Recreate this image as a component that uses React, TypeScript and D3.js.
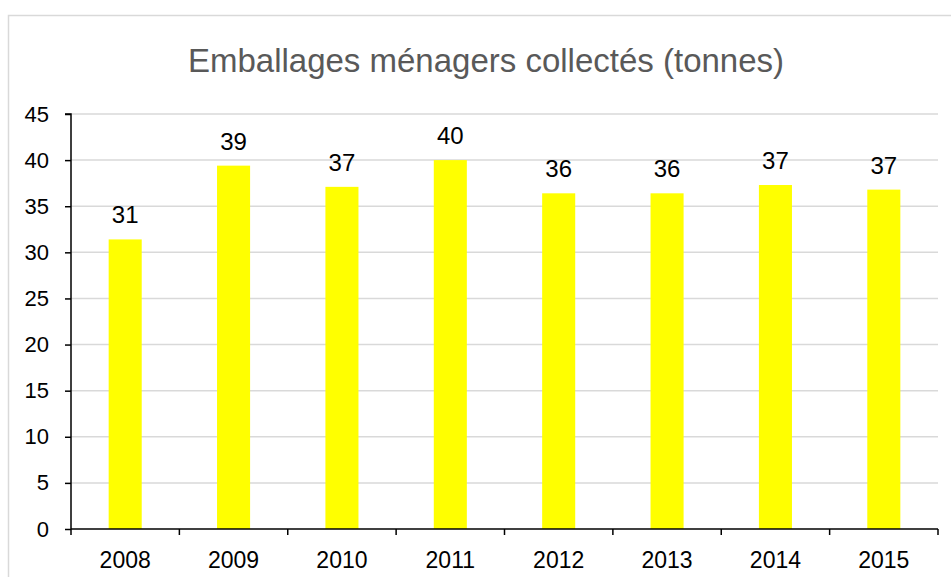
import React, { useRef, useEffect } from 'react';
import * as d3 from 'd3';

// chart data
const years = ['2008', '2009', '2010', '2011', '2012', '2013', '2014', '2015'];
const tonnes = [31.4, 39.4, 37.1, 40.0, 36.4, 36.4, 37.3, 36.8];
const yTicks = [0, 5, 10, 15, 20, 25, 30, 35, 40, 45];
const title = 'Emballages ménagers collectés (tonnes)';

const W = 951;
const H = 577;

const App = () => {
    const svgRef = useRef<SVGSVGElement>(null);

    useEffect(() => {
        const svg = d3.select(svgRef.current);
        svg.selectAll('*').remove();

        const left = 71, right = 938, top = 114, bottom = 529;
        const font = '"Liberation Sans", Arial, sans-serif';

        // outer chart frame (cropped at right / bottom)
        svg.append('rect')
           .attr('x', 8.5).attr('y', 15.5)
           .attr('width', 1000).attr('height', 1000)
           .attr('fill', '#fff')
           .attr('stroke', '#d9d9d9')
           .attr('stroke-width', 1.5);

        svg.append('text')
           .attr('x', 486).attr('y', 72)
           .attr('text-anchor', 'middle')
           .style('font-family', font)
           .style('font-size', '33px')
           .attr('fill', '#595959')
           .text(title);

        // scales
        const xScale = d3.scaleBand()
                         .domain(years)
                         .range([left, right])
                         .paddingInner(0.695)
                         .paddingOuter(0.3475);

        const yScale = d3.scaleLinear()
                         .domain([0, 45])
                         .range([bottom, top]);

        // gridlines
        svg.append('g')
           .selectAll('line')
           .data(yTicks.filter(t => t > 0))
           .join('line')
           .attr('x1', left).attr('x2', right)
           .attr('y1', d => yScale(d)).attr('y2', d => yScale(d))
           .attr('stroke', '#d9d9d9')
           .attr('stroke-width', 1.5);

        // y axis
        const yAxis = d3.axisLeft(yScale).tickValues(yTicks).tickSize(6).tickPadding(16);
        const gy = svg.append('g')
                      .attr('transform', `translate(${left}, 0)`)
                      .call(yAxis);
        gy.selectAll('path, line').attr('stroke', '#000').attr('stroke-width', 1.5);
        gy.select('.domain').attr('d', `M-6,${top}H0V${bottom}`);
        gy.selectAll('text')
          .style('font-family', font)
          .style('font-size', '22px')
          .attr('fill', '#000');

        // bars
        svg.selectAll('.bar')
           .data(tonnes)
           .join('rect')
           .attr('class', 'bar')
           .attr('x', (d, i) => xScale(years[i]))
           .attr('y', d => yScale(d))
           .attr('width', xScale.bandwidth())
           .attr('height', d => bottom - yScale(d))
           .attr('fill', '#ffff00');

        // x axis with ticks between categories
        const step = xScale.step();
        const boundaries = d3.range(years.length + 1).map(i => left + i * step);
        const gx = svg.append('g');
        gx.append('line')
          .attr('x1', left).attr('x2', right)
          .attr('y1', bottom).attr('y2', bottom)
          .attr('stroke', '#000').attr('stroke-width', 1.5);
        gx.selectAll('.tick')
          .data(boundaries)
          .join('line')
          .attr('x1', d => d).attr('x2', d => d)
          .attr('y1', bottom).attr('y2', bottom + 6)
          .attr('stroke', '#000').attr('stroke-width', 1.5);
        gx.selectAll('text')
          .data(years)
          .join('text')
          .attr('x', d => xScale(d) + xScale.bandwidth() / 2)
          .attr('y', 568)
          .attr('text-anchor', 'middle')
          .style('font-family', font)
          .style('font-size', '23px')
          .attr('fill', '#000')
          .text(d => d);

        // data labels
        svg.selectAll('.label')
           .data(tonnes)
           .join('text')
           .attr('class', 'label')
           .attr('x', (d, i) => xScale(years[i]) + xScale.bandwidth() / 2)
           .attr('y', d => yScale(d) - 16)
           .attr('text-anchor', 'middle')
           .style('font-family', font)
           .style('font-size', '24px')
           .attr('fill', '#000')
           .text(d => d3.format('.0f')(d));
    }, []);

    return (
        <svg ref={svgRef} width={W} height={H}
             style={{ position: 'absolute', left: 0, top: 0, background: '#fff' }} />
    );
};

export default App;
